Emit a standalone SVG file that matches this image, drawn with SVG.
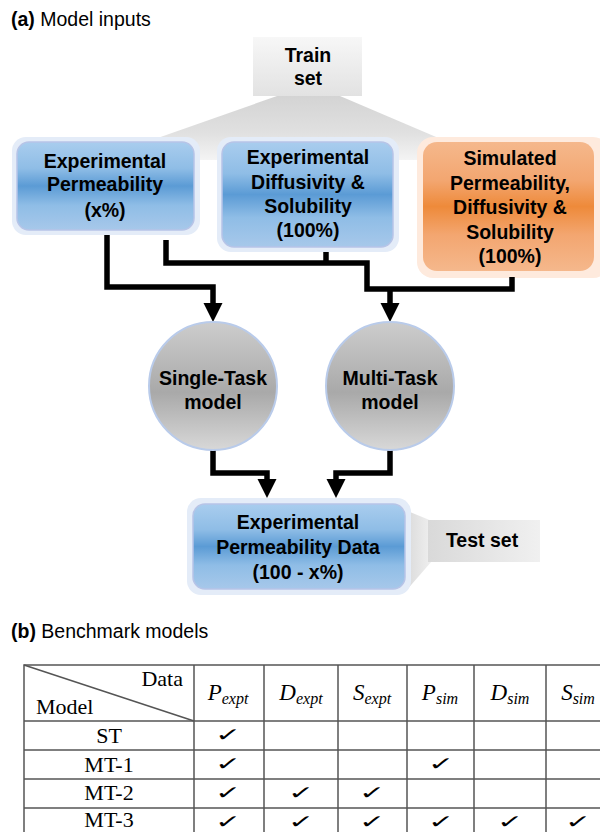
<svg xmlns="http://www.w3.org/2000/svg" width="600" height="832" viewBox="0 0 600 832">
<style>
.t{font-family:"Liberation Sans",Arial,sans-serif;font-weight:bold;font-size:19.5px;fill:#000;text-anchor:middle}
.h{font-family:"Liberation Sans",Arial,sans-serif;font-size:19.5px;fill:#000}
.s{font-family:"Liberation Serif","Times New Roman",serif;font-size:22px;fill:#000}
.m{font-family:"Liberation Serif","Times New Roman",serif;font-style:italic;font-size:23px;fill:#000;text-anchor:middle}
.ck{font-family:"DejaVu Sans",sans-serif;font-size:26px;fill:#000;text-anchor:middle}
.c{fill:none;stroke:#000;stroke-width:5.5;stroke-linejoin:miter}
.g{fill:none;stroke:#555;stroke-width:1.5}
</style>
<defs>
<linearGradient id="blue" x1="0" y1="0" x2="0" y2="1">
<stop offset="0" stop-color="#a9cdee"/><stop offset="0.3" stop-color="#8fbde6"/><stop offset="0.5" stop-color="#5b9bd5"/><stop offset="0.72" stop-color="#8fbde6"/><stop offset="1" stop-color="#a7c8ea"/>
</linearGradient>
<linearGradient id="orange" x1="0" y1="0" x2="0" y2="1">
<stop offset="0" stop-color="#f5b88c"/><stop offset="0.3" stop-color="#f3a670"/><stop offset="0.5" stop-color="#ee8a3a"/><stop offset="0.72" stop-color="#f3a670"/><stop offset="1" stop-color="#f5b88c"/>
</linearGradient>
<linearGradient id="gray" x1="0" y1="0" x2="0" y2="1">
<stop offset="0" stop-color="#cdcdcd"/><stop offset="0.55" stop-color="#a9a9a9"/><stop offset="1" stop-color="#d8d8d8"/>
</linearGradient>
<linearGradient id="train" x1="0" y1="0" x2="0" y2="1">
<stop offset="0" stop-color="#f7f7f7"/><stop offset="1" stop-color="#e2e2e2"/>
</linearGradient>
<linearGradient id="fan" x1="0" y1="0" x2="0" y2="1">
<stop offset="0" stop-color="#d2d2d2"/><stop offset="0.6" stop-color="#e0e0e0"/><stop offset="1" stop-color="#f4f4f4"/>
</linearGradient>
<linearGradient id="tst" x1="0" y1="0" x2="1" y2="0">
<stop offset="0" stop-color="#d9d9d9"/><stop offset="1" stop-color="#f0f0f0"/>
</linearGradient>
<marker id="ah" markerUnits="userSpaceOnUse" markerWidth="20" markerHeight="20" viewBox="0 -10 20 20" refX="1" refY="0" orient="auto">
<path d="M0,-9.5 L19,0 L0,9.5 z" fill="#000"/>
</marker>
</defs>
<rect width="600" height="832" fill="#fff"/>

<text class="h" x="11" y="26"><tspan font-weight="bold">(a)</tspan> Model inputs</text>

<g id="train-set">
<path d="M277,96 Q308,86 340,96 L490,160 L95,160 Z" fill="url(#fan)"/>
<rect x="253" y="37" width="109" height="59" fill="url(#train)"/>
<text class="t" x="308" y="62" font-size="20">Train</text>
<text class="t" x="308" y="85" font-size="20">set</text>
</g>

<g id="exp-perm">
<rect x="12" y="137" width="188" height="98" rx="14" fill="#e4ecf8"/>
<rect x="17" y="142" width="177" height="88" rx="12" fill="url(#blue)" stroke="#b7c4e7" stroke-width="1.5"/>
<text class="t" x="105" y="168">Experimental</text>
<text class="t" x="105" y="191">Permeability</text>
<text class="t" x="105" y="217">(x%)</text>
</g>

<g id="exp-diff-sol">
<rect x="217" y="137" width="182" height="115" rx="14" fill="#e4ecf8"/>
<rect x="222" y="142" width="171" height="105" rx="12" fill="url(#blue)" stroke="#b7c4e7" stroke-width="1.5"/>
<text class="t" x="308" y="164">Experimental</text>
<text class="t" x="308" y="189">Diffusivity &amp;</text>
<text class="t" x="308" y="213">Solubility</text>
<text class="t" x="308" y="237">(100%)</text>
</g>

<g id="sim">
<rect x="417" y="137" width="192" height="141" rx="16" fill="#feeadd"/>
<rect x="423" y="142" width="171" height="129" rx="14" fill="url(#orange)"/>
<text class="t" x="510" y="165">Simulated</text>
<text class="t" x="510" y="189.5">Permeability,</text>
<text class="t" x="510" y="214">Diffusivity &amp;</text>
<text class="t" x="510" y="238.5">Solubility</text>
<text class="t" x="510" y="263">(100%)</text>
</g>

<g id="connectors">
<path class="c" d="M107,235 V287 H213 V304" marker-end="url(#ah)"/>
<path class="c" d="M166,240 V263 H367 V289 H512 V277"/>
<path class="c" d="M326,252 V263"/>
<path class="c" d="M390,287 V304" marker-end="url(#ah)"/>
<path class="c" d="M213,450 V473 H267 V480" marker-end="url(#ah)"/>
<path class="c" d="M390,450 V473 H336 V480" marker-end="url(#ah)"/>
</g>

<g id="single-task">
<circle cx="213" cy="386" r="64" fill="url(#gray)" stroke="#b9cbea" stroke-width="2"/>
<text class="t" x="213" y="385">Single-Task</text>
<text class="t" x="213" y="409">model</text>
</g>

<g id="multi-task">
<circle cx="390" cy="386" r="64" fill="url(#gray)" stroke="#b9cbea" stroke-width="2"/>
<text class="t" x="390" y="385">Multi-Task</text>
<text class="t" x="390" y="409">model</text>
</g>

<g id="test-set">
<path d="M405,510 L432,521 L432,561 L405,592 Z" fill="url(#tst)"/>
<rect x="428" y="520" width="112" height="42" fill="url(#tst)"/>
<text class="t" x="482" y="547">Test set</text>
</g>

<g id="exp-perm-data">
<rect x="187" y="498" width="224" height="97" rx="14" fill="#e4ecf8"/>
<rect x="193" y="504" width="212" height="85" rx="12" fill="url(#blue)" stroke="#b7c4e7" stroke-width="1.5"/>
<text class="t" x="298" y="529">Experimental</text>
<text class="t" x="298" y="554">Permeability Data</text>
<text class="t" x="298" y="579">(100 - x%)</text>
</g>

<text class="h" x="11" y="638"><tspan font-weight="bold">(b)</tspan> Benchmark models</text>

<g id="table">
<rect class="g" x="24" y="665" width="600" height="180"/>
<path class="g" d="M24,721 H612 M24,750 H612 M24,779 H612 M24,808 H612 M194,665 V840 M264,665 V840 M338,665 V840 M407,665 V840 M474,665 V840 M546,665 V840"/>
<path class="g" d="M24,665 L194,721"/>
<text class="s" x="183" y="686" text-anchor="end">Data</text>
<text class="s" x="36" y="714">Model</text>
<text class="m" x="228" y="700">P<tspan font-size="16" dy="4">expt</tspan></text>
<text class="m" x="301" y="700">D<tspan font-size="16" dy="4">expt</tspan></text>
<text class="m" x="372" y="700">S<tspan font-size="16" dy="4">expt</tspan></text>
<text class="m" x="440" y="700">P<tspan font-size="16" dy="4">sim</tspan></text>
<text class="m" x="510" y="700">D<tspan font-size="16" dy="4">sim</tspan></text>
<text class="m" x="578" y="700">S<tspan font-size="16" dy="4">sim</tspan></text>
<text class="s" x="109" y="743" text-anchor="middle">ST</text>
<text class="s" x="109" y="772" text-anchor="middle">MT-1</text>
<text class="s" x="109" y="800" text-anchor="middle">MT-2</text>
<text class="s" x="109" y="827" text-anchor="middle">MT-3</text>
<text class="ck" transform="translate(228,741) scale(1.2,0.72)">✓</text>
<text class="ck" transform="translate(228,770) scale(1.2,0.72)">✓</text>
<text class="ck" transform="translate(441,770) scale(1.2,0.72)">✓</text>
<text class="ck" transform="translate(228,799) scale(1.2,0.72)">✓</text>
<text class="ck" transform="translate(301,799) scale(1.2,0.72)">✓</text>
<text class="ck" transform="translate(372,799) scale(1.2,0.72)">✓</text>
<text class="ck" transform="translate(228,828) scale(1.2,0.72)">✓</text>
<text class="ck" transform="translate(301,828) scale(1.2,0.72)">✓</text>
<text class="ck" transform="translate(372,828) scale(1.2,0.72)">✓</text>
<text class="ck" transform="translate(441,828) scale(1.2,0.72)">✓</text>
<text class="ck" transform="translate(510,828) scale(1.2,0.72)">✓</text>
<text class="ck" transform="translate(578,828) scale(1.2,0.72)">✓</text>
</g>
</svg>
